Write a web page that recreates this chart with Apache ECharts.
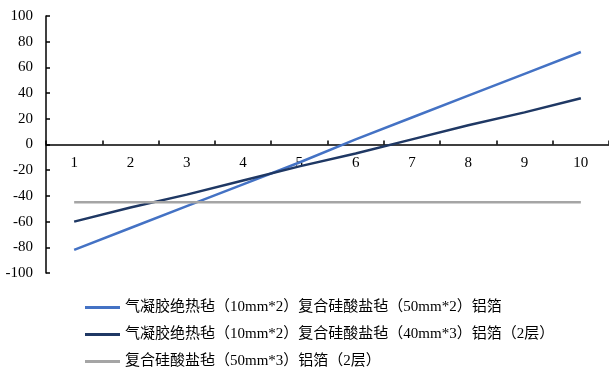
<!DOCTYPE html>
<html>
<head>
<meta charset="utf-8">
<script src="https://cdn.jsdelivr.net/npm/echarts@6/dist/echarts.min.js"></script>
<style>
  html, body { margin: 0; padding: 0; background: #fff; }
  #chart { width: 609px; height: 368px; }
</style>
</head>
<body>
<div id="chart"></div>
<script>
// Categories along the horizontal axis
const categories = ['1', '2', '3', '4', '5', '6', '7', '8', '9', '10'];

// Series names
const seriesNames = [
  '气凝胶绝热毡（10mm*2）复合硅酸盐毡（50mm*2）铝箔',
  '气凝胶绝热毡（10mm*2）复合硅酸盐毡（40mm*3）铝箔（2层）',
  '复合硅酸盐毡（50mm*3）铝箔（2层）'
];

// Series values
const seriesA = [-82, -65, -48, -31, -14, 4, 21, 38, 55, 72];
const seriesB = [-60, -49, -39, -28, -17, -7, 4, 15, 25, 36];
const seriesC = [-45, -45, -45, -45, -45, -45, -45, -45, -45, -45];

const colors = ['#4472C4', '#1F3864', '#A5A5A5'];
const latinFont = '"Liberation Serif", "Times New Roman", serif';
const legendFont = '"Liberation Serif", "Noto Sans CJK SC", serif';

// Plot area geometry; the category axis is drawn at the value 0 line
const gridTop = 16;
const gridBottom = 95;
const chartHeight = 368;
const plotHeight = chartHeight - gridTop - gridBottom;
const yMin = -100, yMax = 100;
const zeroOffset = -plotHeight * (0 - yMin) / (yMax - yMin);

const chart = echarts.init(document.getElementById('chart'));
const values = [seriesA, seriesB, seriesC];

chart.setOption({
  animation: false,
  backgroundColor: '#ffffff',
  grid: { left: 46, right: -2, top: gridTop, bottom: gridBottom, containLabel: false },
  legend: {
    orient: 'vertical',
    left: 80,
    top: 295,
    height: 90,
    itemWidth: 35,
    itemHeight: 3,
    itemGap: 12,
    icon: 'rect',
    textStyle: { fontFamily: legendFont, fontSize: 15, color: '#000' },
    data: seriesNames
  },
  xAxis: {
    type: 'category',
    data: categories,
    boundaryGap: true,
    offset: zeroOffset,
    axisLine: { onZero: false, lineStyle: { color: '#000', width: 1.5 } },
    axisTick: { show: true, inside: true, length: 4, lineStyle: { color: '#000', width: 1.5 } },
    axisLabel: { color: '#000', fontFamily: latinFont, fontSize: 15, margin: 11 },
    splitLine: { show: false }
  },
  yAxis: {
    type: 'value',
    min: yMin,
    max: yMax,
    interval: 20,
    axisLine: { show: true, lineStyle: { color: '#000', width: 1.5 } },
    axisTick: { show: true, inside: true, length: 4, lineStyle: { color: '#000', width: 1.5 } },
    axisLabel: { color: '#000', fontFamily: latinFont, fontSize: 15, margin: 13 },
    splitLine: { show: false }
  },
  series: values.map((v, i) => ({
    name: seriesNames[i],
    type: 'line',
    data: v,
    symbol: 'none',
    smooth: false,
    lineStyle: { color: colors[i], width: 2.5 },
    itemStyle: { color: colors[i] }
  }))
});
</script>
</body>
</html>
